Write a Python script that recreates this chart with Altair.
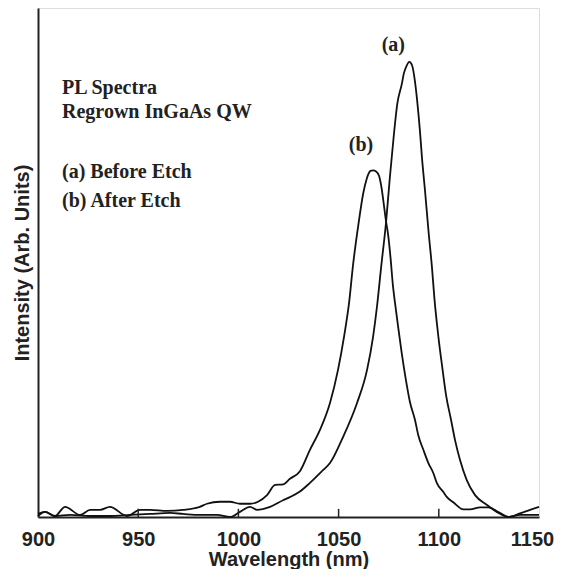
import altair as alt
import pandas as pd

# Curve (a): Before Etch
wl_a = [900.0, 903.5, 908.5, 916.0, 926.0, 935.9, 945.9, 955.9, 965.9, 972.4, 980.8, 989.3, 995.8,
        1000.8, 1005.8, 1009.3, 1015.8, 1022.3, 1025.7, 1030.7, 1035.7, 1042.2, 1045.7, 1052.2,
        1059.2, 1064.2, 1067.2, 1069.2, 1071.2, 1073.7, 1075.6, 1077.6, 1079.3, 1081.5, 1082.6,
        1083.9, 1085.3, 1086.6, 1088.1, 1089.1, 1090.6, 1091.6, 1093.1, 1094.9, 1096.6, 1097.8,
        1099.8, 1101.9, 1103.6, 1106.1, 1108.1, 1110.6, 1113.9, 1118.1, 1123.9, 1128.9, 1134.7,
        1140.5, 1145.5, 1150.0]
int_a = [0.002, 0.010, 0.002, 0.004, 0.002, 0.002, 0.004, 0.006, 0.008, 0.006, 0.004, 0.004, 0.000,
         0.010, 0.020, 0.014, 0.020, 0.033, 0.039, 0.050, 0.067, 0.092, 0.106, 0.157,
         0.224, 0.289, 0.354, 0.415, 0.490, 0.580, 0.668, 0.752, 0.812, 0.850, 0.872,
         0.886, 0.894, 0.888, 0.856, 0.822, 0.758, 0.706, 0.642, 0.560, 0.490, 0.430,
         0.354, 0.289, 0.240, 0.191, 0.151, 0.112, 0.073, 0.043, 0.024, 0.010, 0.000,
         0.007, 0.014, 0.020]

# Curve (b): After Etch
wl_b = [900.0, 903.5, 908.5, 913.5, 921.0, 926.0, 930.9, 935.9, 944.4, 950.9, 955.9, 964.4, 972.4,
        980.8, 984.3, 990.8, 995.8, 1000.8, 1005.8, 1009.8, 1014.3, 1018.3, 1022.3, 1025.7,
        1030.7, 1035.7, 1040.7, 1045.7, 1049.7, 1052.7, 1055.2, 1057.2, 1059.9,
        1062.3, 1064.0, 1064.9, 1065.9, 1067.2, 1068.7, 1070.2, 1071.5, 1072.3, 1073.7, 1074.8,
        1075.9, 1077.1, 1078.1, 1079.6, 1081.5, 1083.6, 1085.6, 1088.1, 1089.8, 1092.3, 1094.8,
        1097.3, 1099.0, 1102.3, 1104.1, 1107.2, 1112.2, 1115.6, 1120.6, 1124.7, 1130.5, 1134.7,
        1140.5, 1150.0]
int_b = [0.006, 0.010, 0.002, 0.020, 0.004, 0.014, 0.014, 0.020, 0.002, 0.014, 0.014, 0.012, 0.014,
         0.020, 0.026, 0.030, 0.030, 0.026, 0.026, 0.030, 0.043, 0.063, 0.064, 0.075,
         0.090, 0.132, 0.171, 0.224, 0.289, 0.354, 0.420, 0.495, 0.575,
         0.636, 0.664, 0.674, 0.680, 0.681, 0.679, 0.670, 0.645, 0.622, 0.580, 0.552,
         0.510, 0.455, 0.422, 0.377, 0.322, 0.269, 0.226, 0.191, 0.160, 0.132, 0.106,
         0.086, 0.067, 0.049, 0.039, 0.029, 0.015, 0.015, 0.019, 0.019, 0.008, 0.000,
         0.004, 0.004]

tick_values = [900, 950, 1000, 1050, 1100, 1150]
inner_ticks = [950, 1000, 1050, 1100]

note_text = ["PL Spectra", "Regrown InGaAs QW", "(a) Before Etch", "(b) After Etch"]
note_x = [912.0, 912.0, 912.0, 912.0]
note_y = [0.832, 0.783, 0.666, 0.610]

peak_text = ["(a)", "(b)"]
peak_x = [1077.3, 1061.2]
peak_y = [0.916, 0.719]

df = pd.concat([
    pd.DataFrame({"wl": wl_a, "val": int_a, "series": "a"}),
    pd.DataFrame({"wl": wl_b, "val": int_b, "series": "b"}),
])
notes = pd.DataFrame({"wl": note_x, "val": note_y, "t": note_text})
peaks = pd.DataFrame({"wl": peak_x, "val": peak_y, "t": peak_text})
ticks = pd.DataFrame({"wl": inner_ticks, "y0": [0.0] * 4, "y1": [0.016] * 4})

xscale = alt.Scale(domain=[900, 1150], nice=False, zero=False)
yscale = alt.Scale(domain=[0, 1], nice=False)

xaxis = alt.Axis(values=tick_values, format="d", title="Wavelength (nm)", ticks=False, grid=False,
                 domain=True, domainColor="#222", domainWidth=2,
                 labelFont="Liberation Sans", labelFontWeight="bold", labelFontSize=20,
                 labelColor="#222", labelPadding=12, labelFlush=False, labelOverlap=False,
                 labelOffset=alt.ExprRef("datum.value == 1150 ? -7 : 0"),
                 titleFont="Liberation Sans", titleFontWeight="bold", titleFontSize=20,
                 titleColor="#222", titlePadding=0)
yaxis = alt.Axis(title="Intensity (Arb. Units)", labels=False, ticks=False, grid=False,
                 domain=True, domainColor="#222", domainWidth=2,
                 titleFont="Liberation Sans", titleFontWeight="bold", titleFontSize=20,
                 titleColor="#222", titlePadding=6)

lines = alt.Chart(df).mark_line(color="#111", strokeWidth=1.8, interpolate="monotone").encode(
    x=alt.X("wl:Q", scale=xscale, axis=xaxis),
    y=alt.Y("val:Q", scale=yscale, axis=yaxis),
    detail="series:N",
)

tick_rules = alt.Chart(ticks).mark_rule(color="#222", strokeWidth=1.5).encode(
    x=alt.X("wl:Q", scale=xscale),
    y=alt.Y("y0:Q", scale=yscale),
    y2="y1:Q",
)

note_marks = alt.Chart(notes).mark_text(
    font="Liberation Serif", fontWeight="bold", fontSize=20, align="left",
    baseline="alphabetic", color="#222"
).encode(x=alt.X("wl:Q", scale=xscale), y=alt.Y("val:Q", scale=yscale), text="t:N")

peak_marks = alt.Chart(peaks).mark_text(
    font="Liberation Serif", fontWeight="bold", fontSize=20, align="center",
    baseline="alphabetic", color="#222"
).encode(x=alt.X("wl:Q", scale=xscale), y=alt.Y("val:Q", scale=yscale), text="t:N")

chart = alt.layer(lines, tick_rules, note_marks, peak_marks).properties(
    width=501, height=509,
    autosize=alt.AutoSizeParams(type="none"),
    padding={"left": 30, "top": 0, "right": 16, "bottom": 52},
).configure_view(stroke="#222", strokeWidth=2).configure(background="white")

chart.save("out.html", embed_options={"renderer": "svg", "actions": False})
